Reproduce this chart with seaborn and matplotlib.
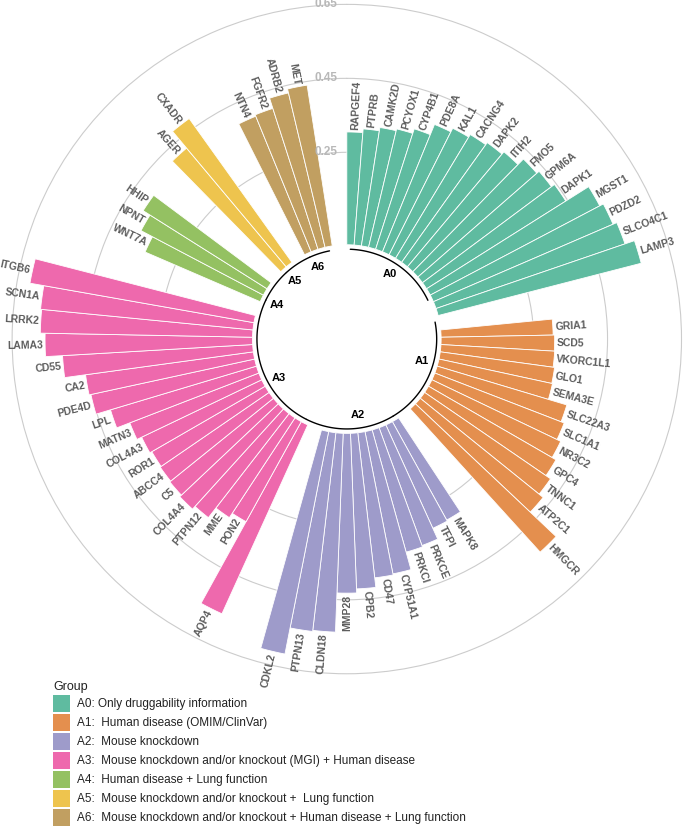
import numpy as np
import pandas as pd
import matplotlib
matplotlib.use("Agg")
import matplotlib.pyplot as plt
from matplotlib.patches import Patch
import seaborn as sns

# ---- data ----
groups = ["A0", "A1", "A2", "A3", "A4", "A5", "A6"]
group_desc = [
    "A0: Only druggability information",
    "A1:  Human disease (OMIM/ClinVar)",
    "A2:  Mouse knockdown",
    "A3:  Mouse knockdown and/or knockout (MGI) + Human disease",
    "A4:  Human disease + Lung function",
    "A5:  Mouse knockdown and/or knockout +  Lung function",
    "A6:  Mouse knockdown and/or knockout + Human disease + Lung function",
]

genes_a0 = ["RAPGEF4", "PTPRB", "CAMK2D", "PCYOX1", "CYP4B1", "PDE8A", "KAL1",
            "CACNG4", "DAPK2", "ITIH2", "FMO5", "GPM6A", "DAPK1", "MGST1",
            "PDZD2", "SLCO4C1", "LAMP3"]
vals_a0 = [0.305, 0.315, 0.324, 0.329, 0.342, 0.372, 0.383, 0.391, 0.398,
           0.406, 0.427, 0.435, 0.445, 0.518, 0.529, 0.540, 0.567]

genes_a1 = ["GRIA1", "SCD5", "VKORC1L1", "GLO1", "SEMA3E", "SLC22A3", "SLC1A1",
            "NR3C2", "GPC4", "TNNC1", "ATP2C1", "HMGCR"]
vals_a1 = [0.303, 0.307, 0.308, 0.312, 0.314, 0.366, 0.375, 0.386, 0.398,
           0.413, 0.427, 0.523]

genes_a2 = ["MAPK8", "TFPI", "PRKCE", "PRKCI", "CYP51A1", "CD47", "CPB2",
            "MMP28", "CLDN18", "PTPN13", "CDKL2"]
vals_a2 = [0.304, 0.307, 0.339, 0.343, 0.392, 0.395, 0.421, 0.432, 0.538,
           0.541, 0.613]

genes_a3 = ["AQP4", "PON2", "MME", "PTPN12", "COL4A4", "C5", "ABCC4", "ROR1",
            "COL4A3", "MATN3", "LPL", "PDE4D", "CA2", "CD55", "LAMA3", "LRRK2",
            "SCN1A", "ITGB6"]
vals_a3 = [0.561, 0.309, 0.323, 0.356, 0.366, 0.360, 0.357, 0.354, 0.360,
           0.374, 0.412, 0.453, 0.458, 0.515, 0.561, 0.574, 0.577, 0.615]

genes_a4 = ["WNT7A", "NPNT", "HHIP"]
vals_a4 = [0.339, 0.374, 0.396]

genes_a5 = ["AGER", "CXADR"]
vals_a5 = [0.419, 0.478]

genes_a6 = ["NTN4", "FGFR2", "ADRB2", "MET"]
vals_a6 = [0.396, 0.400, 0.429, 0.440]

# black arcs under the groups (in bar-slot units)
arc_start = [0, 17.3, 33, 46, 66, 71, 75]
arc_end = [14, 33, 46, 66, 71, 75, 78]

grid_vals = [0.25, 0.45, 0.65]

all_genes = [genes_a0, genes_a1, genes_a2, genes_a3, genes_a4, genes_a5, genes_a6]
all_vals = [vals_a0, vals_a1, vals_a2, vals_a3, vals_a4, vals_a5, vals_a6]

# ---- layout: two empty slots after every group ----
empty_bar = 2
rows = []
slot = 0
for g, gn, gv in zip(groups, all_genes, all_vals):
    for name, v in zip(gn, gv):
        rows.append(dict(gene=name, group=g, value=v, slot=slot))
        slot += 1
    slot += empty_bar
n_slots = slot
step = 2 * np.pi / n_slots
df = pd.DataFrame(rows)
df["theta"] = (df["slot"] + 0.5) * step

sns.set_theme(style="white")
plt.rcParams["font.family"] = ["Liberation Sans", "DejaVu Sans"]

base = sns.color_palette("Dark2", 7)
alpha = 0.7
colors = [tuple(alpha * np.array(c) + (1 - alpha)) for c in base]
pal = dict(zip(groups, colors))

fig = plt.figure(figsize=(6.85, 8.27), dpi=100)
ax = fig.add_axes([0.0123, 0.1806, 0.988, 0.8188], projection="polar")
ax.set_theta_zero_location("N")
ax.set_theta_direction(-1)

sns.barplot(data=df, x="theta", y="value", hue="group", palette=pal,
            native_scale=True, width=1.0, dodge=False, legend=False,
            saturation=1, errorbar=None, edgecolor="white", linewidth=0.6,
            ax=ax)

rmin, rmax = -0.255, 0.66
ax.set_ylim(rmin, rmax)
ax.set_xlabel("")
ax.set_ylabel("")
ax.set_xticks([])
ax.set_yticks(grid_vals)
ax.set_yticklabels([])
ax.yaxis.grid(True, color="#cccccc", linewidth=0.8)
ax.xaxis.grid(False)
ax.spines["polar"].set_visible(False)
ax.set_axisbelow(True)

for v in grid_vals:
    ax.annotate(f"{v:.2f}", xy=(0, v), xytext=(-7, 0),
                textcoords="offset points", ha="right", va="center",
                fontsize=8.5, fontweight="bold", color="#b8b8b8")

# gene labels
for _, r in df.iterrows():
    ang = np.degrees(r["theta"])
    if ang < 180:
        rot, ha = 90 - ang, "left"
    else:
        rot, ha = 270 - ang, "right"
    ax.text(r["theta"], r["value"] + 0.006, r["gene"], rotation=rot,
            rotation_mode="anchor", ha=ha, va="center", fontsize=7.5,
            fontweight="bold", color="#5c5c5c", clip_on=False)

# group arcs and labels
for i, g in enumerate(groups):
    t0 = (arc_start[i] + 0.5) * step
    t1 = (arc_end[i] + 0.5) * step
    tt = np.linspace(t0, t1, 100)
    ax.plot(tt, np.full_like(tt, -0.012), color="black", linewidth=1.0)
    sub = df[df.group == g]
    tm = (sub["slot"].min() + max(sub["slot"].max() - empty_bar, sub["slot"].min())) / 2
    tm = (tm + 0.5) * step
    ax.text(tm, -0.044, g, ha="right" if g == "A2" else "center", va="center",
            fontsize=8, fontweight="bold", color="black")

handles = [Patch(facecolor=pal[g], edgecolor="none") for g in groups]
leg = fig.legend(handles, group_desc, title="Group", loc="upper left",
                 bbox_to_anchor=(0.069, 0.184), frameon=False, fontsize=8.5,
                 title_fontsize=9, handlelength=1.45, handleheight=1.84,
                 handletextpad=0.6, labelspacing=0.17, borderpad=0,
                 alignment="left")
for t in leg.get_texts():
    t.set_color("#222222")
leg.get_title().set_color("#222222")

fig.savefig("out.png", dpi=100)
